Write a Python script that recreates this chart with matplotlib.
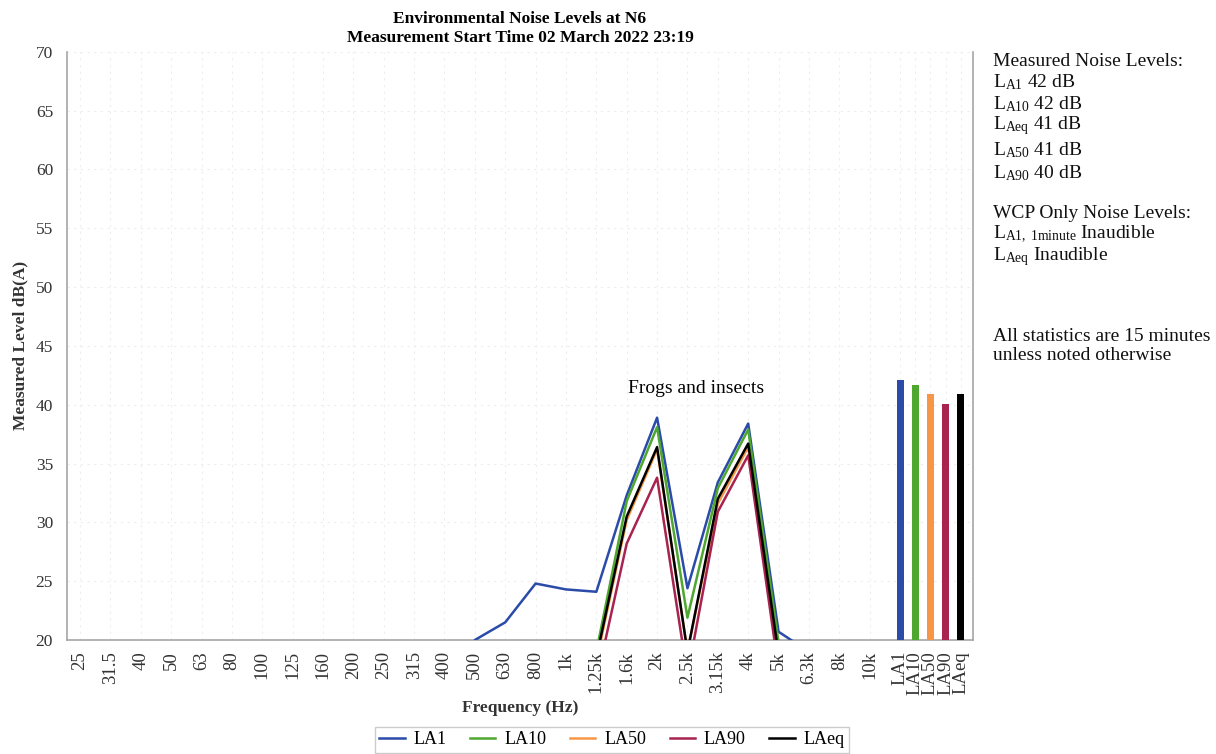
import matplotlib
matplotlib.use("Agg")
import matplotlib.pyplot as plt
import numpy as np

plt.rcParams['font.family'] = ['Liberation Serif', 'DejaVu Serif']
plt.rcParams['mathtext.fontset'] = 'custom'
plt.rcParams['mathtext.rm'] = 'Liberation Serif'
plt.rcParams['mathtext.it'] = 'Liberation Serif:italic'
plt.rcParams['mathtext.bf'] = 'Liberation Serif:bold'

bands = ['25', '31.5', '40', '50', '63', '80', '100', '125', '160', '200', '250',
         '315', '400', '500', '630', '800', '1k', '1.25k', '1.6k', '2k', '2.5k',
         '3.15k', '4k', '5k', '6.3k', '8k', '10k']
stat_labels = ['LA1', 'LA10', 'LA50', 'LA90', 'LAeq']
stat_values = [42.1, 41.7, 40.9, 40.1, 40.9]

la1 = [12, 12, 12, 12, 12, 12, 12, 12, 12, 12, 12, 12, 15, 20.0, 21.5, 24.8, 24.3, 24.1,
       32.3, 38.9, 24.4, 33.4, 38.4, 20.7, 19.0, 15, 15]
la10 = [10, 10, 10, 10, 10, 10, 10, 10, 10, 10, 10, 10, 10, 10, 12, 14, 16, 19.0,
        31.8, 38.1, 21.9, 32.9, 37.9, 19.8, 12, 10, 10]
la50 = [10, 10, 10, 10, 10, 10, 10, 10, 10, 10, 10, 10, 10, 10, 11, 13, 15, 18.2,
        30.2, 36.2, 19.0, 31.6, 36.4, 18.5, 11, 10, 10]
la90 = [10, 10, 10, 10, 10, 10, 10, 10, 10, 10, 10, 10, 10, 10, 10, 12, 14, 16.5,
        28.2, 33.8, 17.0, 30.9, 35.7, 17.5, 10, 10, 10]
laeq = [10, 10, 10, 10, 10, 10, 10, 10, 10, 10, 10, 10, 10, 10, 11, 13, 15, 18.5,
        30.5, 36.4, 19.0, 32.0, 36.7, 18.8, 11, 10, 10]

colors = {'LA1': '#2a4ba8', 'LA10': '#4ea72e', 'LA50': '#f79646',
          'LA90': '#a8234f', 'LAeq': '#000000'}

fig = plt.figure(figsize=(12.16, 7.54), dpi=100)
ax = fig.add_axes([0.0551, 0.1512, 0.745, 0.780])

x = np.arange(len(bands))
for name, vals in [('LA1', la1), ('LA10', la10), ('LA50', la50), ('LA90', la90), ('LAeq', laeq)]:
    ax.plot(x, vals, color=colors[name], lw=1.8, label=name, zorder=3)

bx = len(bands) + 0.5 * np.arange(len(stat_labels))
ax.bar(bx, stat_values, width=0.23, color=[colors[s] for s in stat_labels], zorder=3)

ax.set_xlim(-0.43, 29.4)
ax.set_ylim(20, 70)
ax.set_yticks(np.arange(20, 71, 5))
ax.set_xticks(list(x) + list(bx))
ax.set_xticklabels(bands + stat_labels, rotation=90, va='top', ha='center')
ax.tick_params(axis='y', length=0, labelsize=12.5, colors='#333333', pad=10)
ax.tick_params(axis='x', length=0, labelsize=13.5, colors='#333333', pad=8)
ax.grid(True, color='#ededed', ls=(0, (2, 4)), lw=0.8, zorder=0)
for s in ['left', 'bottom', 'right']:
    ax.spines[s].set_color('#a6a6a6')
    ax.spines[s].set_linewidth(1.2)
ax.spines['top'].set_visible(False)

ax.set_ylabel('Measured Level dB(A)', fontsize=12.5, fontweight='bold', color='#333333', labelpad=5)
ax.set_xlabel('Frequency (Hz)', fontsize=12.5, fontweight='bold', color='#333333', labelpad=4)
ax.set_title('Environmental Noise Levels at N6\nMeasurement Start Time 02 March 2022 23:19',
             fontsize=12.5, fontweight='bold', linespacing=1.3, pad=7)

ax.text(20.3, 40.7, 'Frogs and insects', fontsize=14, ha='center', va='bottom')

leg = fig.legend(loc='center', bbox_to_anchor=(612 / 1216, 1 - 740 / 754), ncol=5, frameon=True,
                 fontsize=13, handlelength=1.4, handletextpad=0.5, columnspacing=1.3,
                 borderpad=0.25, borderaxespad=0.0, fancybox=False, handles=ax.get_lines())
leg.get_frame().set_edgecolor('#c0c0c0')

right_lines = [
    (61, 'Measured Noise Levels:'),
    (82, r'L$_{\mathrm{A1}}$ 42 dB'),
    (104, r'L$_{\mathrm{A10}}$ 42 dB'),
    (126, r'L$_{\mathrm{Aeq}}$ 41 dB'),
    (150, r'L$_{\mathrm{A50}}$ 41 dB'),
    (173, r'L$_{\mathrm{A90}}$ 40 dB'),
    (213, 'WCP Only Noise Levels:'),
    (234, r'L$_{\mathrm{A1,\ 1minute}}$ Inaudible'),
    (257, r'L$_{\mathrm{Aeq}}$ Inaudible'),
    (336, 'All statistics are 15 minutes'),
    (356, 'unless noted otherwise'),
]
for ypx, t in right_lines:
    fig.text(993 / 1216, 1 - ypx / 754, t, fontsize=14, ha='left', va='center', color='#111111')

fig.savefig('out.png', dpi=100)
